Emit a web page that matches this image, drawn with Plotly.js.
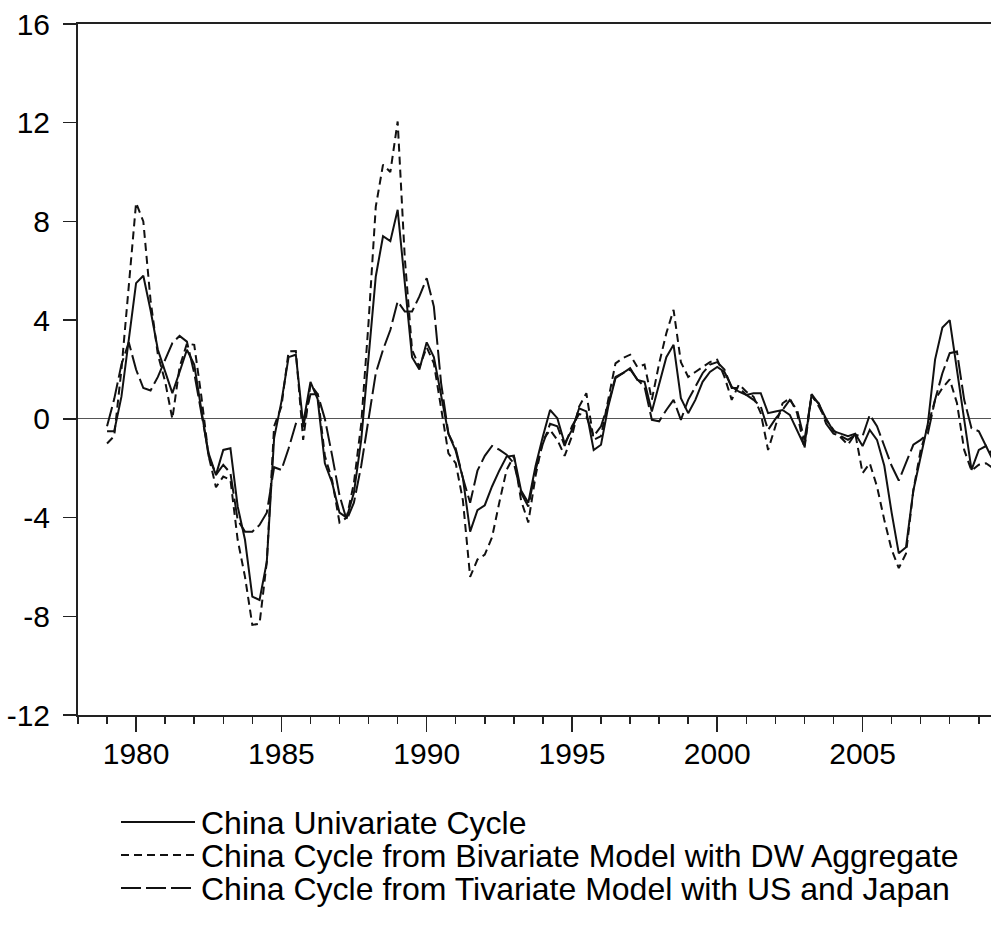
<!DOCTYPE html>
<html>
<head>
<meta charset="utf-8">
<script src="https://cdn.plot.ly/plotly-3.0.1.min.js"></script>
<style>html,body{margin:0;padding:0;background:#fff;}#chart{width:991px;height:934px;}</style>
</head>
<body>
<div id="chart"></div>
<script>
// Quarterly observations, first observation 1979Q1
const startYear = 1979;

const univariate = [
  -0.5, -0.5, 0.9, 3.3,
  5.5, 5.8, 4.4, 2.8,
  1.9, 1.04, 1.9, 2.8,
  2.2, 0.3, -1.5, -2.27,
  -1.26, -1.19, -3.55, -4.9,
  -7.2, -7.34, -5.8, -0.78,
  0.7, 2.5, 2.6, -0.2,
  1.5, 0.8, -1.8, -2.6,
  -3.8, -4.0, -3.0, -0.85,
  2.5, 5.77, 7.4, 7.2,
  8.47, 5.5, 2.5, 2.0,
  3.1, 2.5, 0.9, -0.6,
  -1.3, -2.4, -4.57, -3.7,
  -3.5, -2.74, -2.1, -1.53,
  -1.49, -2.9, -3.4, -1.9,
  -0.7, 0.36, 0.03, -1.0,
  -0.45, 0.43, 0.3, -1.26,
  -1.05, 0.5, 1.65, 1.85,
  2.05, 1.58, 1.5, 0.3,
  1.45, 2.5, 3.0, 0.84,
  0.23, 0.77, 1.5, 1.9,
  2.1, 1.9, 1.3, 1.1,
  0.97, 1.04, 1.04, 0.23,
  0.3, 0.36, 0.16, -0.5,
  -1.1, 1.0, 0.6, 0.0,
  -0.5, -0.6, -0.7, -0.6,
  -1.1, -0.45, -0.85, -1.9,
  -3.8, -5.45, -5.2, -2.9,
  -1.5, -0.2, 2.4, 3.7,
  4.0, 2.0, 0.0, -2.07,
  -1.26, -1.1, -1.7
];

const bivariateDW = [
  -1.0, -0.7, 2.0, 5.5,
  8.75, 8.0, 4.8, 2.6,
  1.5, 0.0, 2.1, 3.05,
  3.0, 0.9, -1.5, -2.77,
  -2.34, -2.47, -4.9, -6.4,
  -8.35, -8.3, -5.8, -0.3,
  0.5, 2.73, 2.75, -0.85,
  1.4, 1.0, -1.5, -2.5,
  -4.2, -4.0, -2.6, -0.2,
  3.9, 8.6, 10.3, 10.0,
  12.05, 6.5, 2.8, 2.1,
  2.9, 2.25, 0.5, -1.4,
  -1.8, -3.3, -6.4, -5.7,
  -5.5, -4.8, -3.4, -2.07,
  -1.5, -3.3, -4.2, -2.3,
  -0.85, -0.45, -0.85, -1.5,
  -0.7, 0.5, 1.04, -0.85,
  -0.7, 0.77, 2.25, 2.46,
  2.6, 2.1, 2.2, 0.77,
  2.25, 3.47, 4.42, 2.3,
  1.7, 1.9, 2.1, 2.3,
  2.4, 1.7, 0.77, 1.4,
  1.1, 0.9, 0.23, -1.26,
  -0.3, 0.63, 0.84, 0.23,
  -1.2, 0.97, 0.5, -0.04,
  -0.45, -0.75, -1.05, -0.6,
  -2.2, -1.8, -2.74, -4.1,
  -5.3, -6.05, -5.45, -2.9,
  -1.26, -0.3, 0.77, 1.25,
  1.6, 0.64, -1.26, -2.1,
  -1.86, -1.8, -2.0
];

const trivariateUSJP = [
  -0.3, 0.8, 2.2, 3.1,
  2.0, 1.25, 1.15, 1.7,
  2.4, 3.07, 3.36, 3.13,
  1.85, 0.2, -1.4, -2.27,
  -1.86, -2.2, -4.1, -4.57,
  -4.57, -4.3, -3.8, -1.96,
  -2.07, -1.2, -0.2, -0.3,
  1.0, 1.0, 0.0, -1.5,
  -3.1, -4.1, -3.4, -1.9,
  0.0, 1.85, 2.8, 3.6,
  4.76, 4.35, 4.35, 4.96,
  5.7, 4.55, 1.45, -0.6,
  -1.2, -2.4, -3.4, -2.1,
  -1.5, -1.1, -1.25, -1.45,
  -1.8, -3.0, -3.55, -2.07,
  -1.0, -0.2, -0.3, -1.1,
  -0.3, 0.2, 0.1, -0.7,
  -0.3, 0.6, 1.7, 1.85,
  2.0, 1.6, 1.3, -0.04,
  -0.1, 0.36, 0.77, -0.04,
  0.77, 1.3, 1.85, 2.2,
  2.3, 2.0, 1.25, 1.25,
  0.97, 0.77, 0.5, -0.45,
  0.0, 0.36, 0.77, 0.36,
  -0.85, 0.9, 0.63, -0.2,
  -0.6, -0.7, -0.85, -0.65,
  -0.7, 0.16, -0.3, -1.1,
  -1.9, -2.5, -1.8, -1.05,
  -0.85, -0.6, 0.77, 1.85,
  2.66, 2.73, 0.77, -0.38,
  -0.5, -1.1, -1.5
];

const seriesNames = [
  "China Univariate Cycle",
  "China Cycle from Bivariate Model with DW Aggregate",
  "China Cycle from Tivariate Model with US and Japan"
];
const seriesDash = ["solid", "8px,5px", "20px,5px"];

// y-axis ticks (labels written with a plain hyphen, as in the original)
const yTickValues = [-12, -8, -4, 0, 4, 8, 12, 16];
const yTickLabels = ["-12", "-8", "-4", "0", "4", "8", "12", "16"];

// quarterly dates (quarter start months)
const quarterMonths = ["01", "04", "07", "10"];
const dates = univariate.map((_, i) =>
  (startYear + Math.floor(i / 4)) + "-" + quarterMonths[i % 4] + "-01");

const FONT = "Liberation Sans, Arial, Helvetica, sans-serif";
const INK = "#111";
const TICKSIZE = 30;
const LEGSIZE = 32;

const seriesValues = [univariate, bivariateDW, trivariateUSJP];
const traces = seriesValues.map((vals, k) => ({
  type: "scatter", mode: "lines", hoverinfo: "skip",
  x: dates, y: vals, name: seriesNames[k],
  line: {color: INK, width: 2, dash: seriesDash[k]}
}));

// EViews-style legend below the plot: sample line + label per series,
// rows tightly spaced as in the original.
const plotLeft = 78, plotRight = 991, plotTop = 24, plotBottom = 715;
const px2x = p => (p - plotLeft) / (plotRight - plotLeft);
const px2y = p => (plotBottom - p) / (plotBottom - plotTop);
const legendRowsPx = [822, 855, 888];
const legendShapes = seriesNames.map((_, k) => ({
  type: "line", xref: "paper", yref: "paper",
  x0: px2x(121), x1: px2x(195), y0: px2y(legendRowsPx[k]), y1: px2y(legendRowsPx[k]),
  line: {color: INK, width: 2, dash: seriesDash[k]}
}));
const legendLabels = seriesNames.map((name, k) => ({
  xref: "paper", yref: "paper", x: px2x(199), y: px2y(legendRowsPx[k] + 1),
  xanchor: "left", yanchor: "middle", showarrow: false, text: name,
  font: {family: FONT, size: LEGSIZE, color: "#000"}
}));

const layout = {
  width: 991, height: 934,
  margin: {l: plotLeft, r: 991 - plotRight, t: plotTop, b: 934 - plotBottom, pad: 0},
  paper_bgcolor: "#fff", plot_bgcolor: "#fff",
  font: {family: FONT, color: "#000", size: TICKSIZE},
  showlegend: false,
  shapes: legendShapes,
  annotations: legendLabels,
  xaxis: {
    type: "date",
    range: ["1978-01-01", "2009-06-03"],
    showgrid: false, zeroline: false,
    showline: true, linecolor: "#222", linewidth: 2, mirror: true,
    ticks: "outside", ticklen: 15, tickwidth: 1.5, tickcolor: "#222",
    tick0: "1980-01-01", dtick: "M60", tickformat: "%Y",
    ticklabelstandoff: -4,
    tickfont: {family: FONT, size: TICKSIZE, color: "#000"},
    minor: {tick0: "1978-01-01", dtick: "M12", ticks: "outside", ticklen: 7,
            tickwidth: 1.5, tickcolor: "#222", showgrid: false}
  },
  yaxis: {
    range: [-12, 16],
    tickmode: "array", tickvals: yTickValues, ticktext: yTickLabels,
    showgrid: false,
    zeroline: true, zerolinecolor: "#555", zerolinewidth: 1,
    showline: true, linecolor: "#222", linewidth: 2,
    ticks: "outside", ticklen: 13, tickwidth: 1.5, tickcolor: "#222",
    ticklabelstandoff: 7,
    tickfont: {family: FONT, size: TICKSIZE, color: "#000"}
  }
};

Plotly.newPlot("chart", traces, layout, {staticPlot: true, displayModeBar: false});
</script>
</body>
</html>
